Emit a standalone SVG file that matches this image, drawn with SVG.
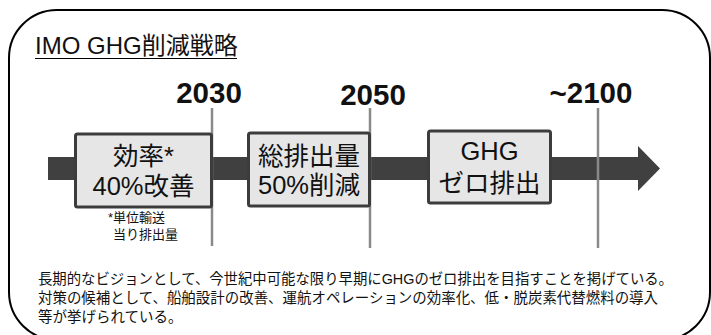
<svg xmlns="http://www.w3.org/2000/svg" width="711" height="335" viewBox="0 0 711 335">
<style>
  text { font-family: "Liberation Sans", "Noto Sans CJK JP", sans-serif; fill: #111; }
  .year { font-size: 29.5px; font-weight: bold; text-anchor: middle; }
  .box { fill: #e6e6e6; stroke: #3c3c3c; stroke-width: 3; }
  .boxtext { font-size: 25.5px; text-anchor: middle; }
  .tick { stroke: #8a8a8a; stroke-width: 2.5; }
  .note { font-size: 13px; }
  .body { font-size: 14.5px; }
</style>
<rect width="711" height="335" fill="#ffffff"/>
<rect id="frame" x="9" y="10" width="701" height="330" rx="48" ry="48" fill="none" stroke="#000" stroke-width="2"/>
<g id="title">
  <text x="35" y="54" style="font-size:24px">IMO GHG削減戦略</text>
  <line x1="35" y1="58.5" x2="237" y2="58.5" stroke="#000" stroke-width="1.2"/>
</g>
<g id="connectors">
  <rect x="48" y="157" width="592" height="23" fill="#404040"/>
  <polygon points="638,146 660,168.5 638,191" fill="#404040"/>
  <line class="tick" x1="212" y1="108" x2="212" y2="246"/>
  <line class="tick" x1="370" y1="108" x2="370" y2="248"/>
  <line class="tick" x1="598" y1="108" x2="598" y2="248"/>
</g>
<g id="years">
  <text class="year" x="209" y="103">2030</text>
  <text class="year" x="373" y="105">2050</text>
  <text class="year" x="591" y="103">~2100</text>
</g>
<g id="node-2030">
  <rect class="box" x="75.5" y="134" width="136" height="73" rx="2"/>
  <text class="boxtext" x="143.5" y="165">効率*</text>
  <text class="boxtext" x="143.5" y="195">40%改善</text>
</g>
<g id="note-2030">
  <text class="note" x="108" y="222">*単位輸送</text>
  <text class="note" x="113" y="239">当り排出量</text>
</g>
<g id="node-2050">
  <rect class="box" x="248.5" y="133" width="121" height="73" rx="2"/>
  <text class="boxtext" x="309" y="165">総排出量</text>
  <text class="boxtext" x="309" y="194">50%削減</text>
</g>
<g id="node-2100">
  <rect class="box" x="428.5" y="131" width="122" height="72" rx="2"/>
  <text class="boxtext" x="489.5" y="160">GHG</text>
  <text class="boxtext" x="489.5" y="192">ゼロ排出</text>
</g>
<g id="description">
  <text class="body" x="38" y="284" textLength="635" lengthAdjust="spacingAndGlyphs">長期的なビジョンとして、今世紀中可能な限り早期にGHGのゼロ排出を目指すことを掲げている。</text>
  <text class="body" x="38" y="303" textLength="620" lengthAdjust="spacingAndGlyphs">対策の候補として、船舶設計の改善、運航オペレーションの効率化、低・脱炭素代替燃料の導入</text>
  <text class="body" x="38" y="322">等が挙げられている。</text>
</g>
</svg>
